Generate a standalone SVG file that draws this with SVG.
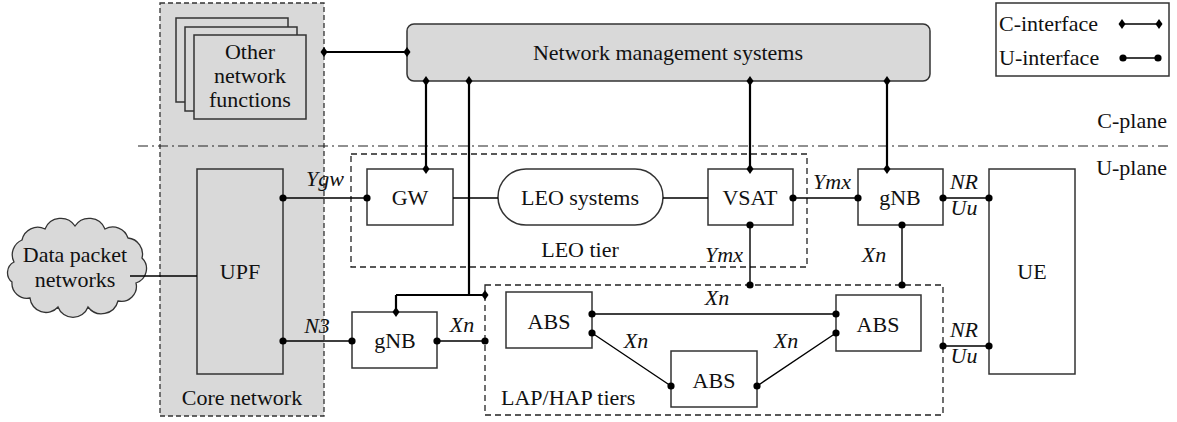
<svg xmlns="http://www.w3.org/2000/svg" xmlns:xlink="http://www.w3.org/1999/xlink" width="1177" height="422" viewBox="0 0 1177 422" font-family="Liberation Serif, DejaVu Serif, serif">
<defs>
<style>
text{font-size:22px;fill:#111}
.c{text-anchor:middle}
.i{font-style:italic}
.box{fill:#fff;stroke:#333;stroke-width:1.5}
.gbox{fill:#d9d9d9;stroke:#333;stroke-width:1.5}
.cl{stroke:#000;stroke-width:2.2;fill:none}
.ul{stroke:#000;stroke-width:1.4;fill:none}
.dash{fill:none;stroke:#222;stroke-width:1.3;stroke-dasharray:6,4}
</style>
<polygon id="dm" points="0,-5 3.5,0 0,5 -3.5,0" fill="#000"/>
<circle id="dt" r="3.6" fill="#000"/>
</defs>
<rect width="1177" height="422" fill="#fff"/>
<!-- background regions -->
<g id="core-network">
<rect x="160" y="3" width="164" height="413" fill="#d9d9d9" stroke="#333" stroke-width="1.3" stroke-dasharray="5,3"/>
<text class="c" x="242" y="405">Core network</text>
</g>
<line x1="138" y1="146" x2="1170" y2="146" stroke="#222" stroke-width="1.2" stroke-dasharray="10,4,2,4"/>
<text x="1167" y="128" text-anchor="end">C-plane</text>
<text x="1167" y="175" text-anchor="end">U-plane</text>
<g id="leo-tier">
<rect class="dash" x="351" y="154" width="456" height="113"/>
<text class="c" x="580" y="257">LEO tier</text>
</g>
<g id="lap-hap-tiers">
<rect class="dash" x="485" y="285" width="458" height="130"/>
<text x="501" y="405">LAP/HAP tiers</text>
</g>
<!-- legend -->
<g id="legend">
<rect x="996" y="3" width="173" height="73" fill="#fff" stroke="#333" stroke-width="1.5"/>
<text x="999" y="31">C-interface</text>
<text x="999" y="65">U-interface</text>
<line class="ul" x1="1122" y1="24" x2="1159" y2="24"/>
<use xlink:href="#dm" x="1122" y="24"/><use xlink:href="#dm" x="1159" y="24"/>
<line class="ul" x1="1123" y1="58" x2="1158" y2="58"/>
<use xlink:href="#dt" x="1123" y="58"/><use xlink:href="#dt" x="1158" y="58"/>
</g>
<!-- nodes -->
<g id="other-network-functions">
<rect class="gbox" x="176" y="18" width="112" height="84"/>
<rect class="gbox" x="185" y="27" width="112" height="84"/>
<rect class="gbox" x="194" y="35" width="112" height="84"/>
<text class="c" x="250" y="59">Other</text>
<text class="c" x="250" y="83">network</text>
<text class="c" x="250" y="107">functions</text>
</g>
<g id="nms">
<rect class="gbox" x="407" y="24" width="523" height="57" rx="7"/>
<text class="c" x="668" y="60">Network management systems</text>
</g>
<g id="data-packet-networks">
<path d="M14,262 A16,16 0 0 1 22,240 A16,16 0 0 1 45,229 A17,17 0 0 1 75,226 A17,17 0 0 1 105,229 A16,16 0 0 1 128,238 A16,16 0 0 1 142,258 A15,15 0 0 1 136,283 A15,15 0 0 1 118,301 A17,17 0 0 1 88,307 A16,16 0 0 1 58,307 A16,16 0 0 1 30,298 A15,15 0 0 1 12,282 A12,12 0 0 1 14,262 Z" fill="#d9d9d9" stroke="#333" stroke-width="1.3"/>
<text class="c" x="75" y="262">Data packet</text>
<text class="c" x="75" y="287">networks</text>
</g>
<g id="upf">
<rect class="gbox" x="197" y="169" width="86" height="205"/>
<text class="c" x="240" y="279">UPF</text>
</g>
<g id="gw">
<rect class="box" x="367" y="169" width="86" height="56"/>
<text class="c" x="410" y="205">GW</text>
</g>
<g id="leo-systems">
<rect class="box" x="498" y="169" width="165" height="56" rx="28"/>
<text class="c" x="580" y="205">LEO systems</text>
</g>
<g id="vsat">
<rect class="box" x="708" y="169" width="85" height="56"/>
<text class="c" x="750" y="205">VSAT</text>
</g>
<g id="gnb-top">
<rect class="box" x="858" y="169" width="85" height="56"/>
<text class="c" x="900" y="205">gNB</text>
</g>
<g id="ue">
<rect class="box" x="989" y="169" width="86" height="205"/>
<text class="c" x="1032" y="279">UE</text>
</g>
<g id="gnb-bottom">
<rect class="box" x="352" y="312" width="85" height="56"/>
<text class="c" x="395" y="348">gNB</text>
</g>
<g id="abs-left">
<rect class="box" x="506" y="292" width="86" height="56"/>
<text class="c" x="549" y="329">ABS</text>
</g>
<g id="abs-middle">
<rect class="box" x="671" y="351" width="86" height="56"/>
<text class="c" x="714" y="388">ABS</text>
</g>
<g id="abs-right">
<rect class="box" x="836" y="295" width="85" height="56"/>
<text class="c" x="878" y="332">ABS</text>
</g>
<!-- connectors -->
<g id="connectors">
<path class="cl" d="M324,52 H407"/>
<path class="cl" d="M426,81 V169"/>
<path class="cl" d="M469,81 V295 M396,295 H485 M396,295 V312"/>
<path class="cl" d="M750,81 V169"/>
<path class="cl" d="M887,81 V169"/>
<use xlink:href="#dm" x="324" y="52"/><use xlink:href="#dm" x="407" y="52"/>
<use xlink:href="#dm" x="426" y="81"/><use xlink:href="#dm" x="426" y="169"/>
<use xlink:href="#dm" x="469" y="81"/><use xlink:href="#dm" x="485" y="295"/><use xlink:href="#dm" x="396" y="312"/>
<use xlink:href="#dm" x="750" y="81"/><use xlink:href="#dm" x="750" y="169"/>
<use xlink:href="#dm" x="887" y="81"/><use xlink:href="#dm" x="887" y="169"/>
<path class="ul" d="M283,198 H367 M283,341 H352 M130,276 H197 M453,198 H498 M663,198 H708 M793,198 H858 M750,225 V285 M902,225 V285 M943,198 H989 M943,346 H989 M437,341 H485 M592,314 H836 M592,333 L671,386 M757,386 L836,333"/>
<use xlink:href="#dt" x="283" y="198"/><use xlink:href="#dt" x="367" y="198"/>
<use xlink:href="#dt" x="283" y="341"/><use xlink:href="#dt" x="352" y="341"/>
<use xlink:href="#dt" x="793" y="198"/><use xlink:href="#dt" x="858" y="198"/>
<use xlink:href="#dt" x="750" y="225"/><use xlink:href="#dt" x="750" y="285"/>
<use xlink:href="#dt" x="902" y="225"/><use xlink:href="#dt" x="902" y="285"/>
<use xlink:href="#dt" x="943" y="198"/><use xlink:href="#dt" x="989" y="198"/>
<use xlink:href="#dt" x="943" y="346"/><use xlink:href="#dt" x="989" y="346"/>
<use xlink:href="#dt" x="437" y="341"/><use xlink:href="#dt" x="485" y="341"/>
<use xlink:href="#dt" x="592" y="314"/><use xlink:href="#dt" x="836" y="314"/>
<use xlink:href="#dt" x="592" y="333"/><use xlink:href="#dt" x="671" y="386"/>
<use xlink:href="#dt" x="757" y="386"/><use xlink:href="#dt" x="836" y="333"/>
<text class="c i" x="325" y="186">Ygw</text>
<text class="c i" x="317" y="333">N3</text>
<text class="c i" x="462" y="332">Xn</text>
<text class="c i" x="717" y="305">Xn</text>
<text class="c i" x="636" y="348">Xn</text>
<text class="c i" x="786" y="348">Xn</text>
<text class="c i" x="724" y="262">Ymx</text>
<text class="c i" x="832" y="189">Ymx</text>
<text class="c i" x="874" y="262">Xn</text>
<text class="c i" x="964" y="189">NR</text>
<text class="c i" x="964" y="215">Uu</text>
<text class="c i" x="964" y="337">NR</text>
<text class="c i" x="964" y="363">Uu</text>
</g>
</svg>
